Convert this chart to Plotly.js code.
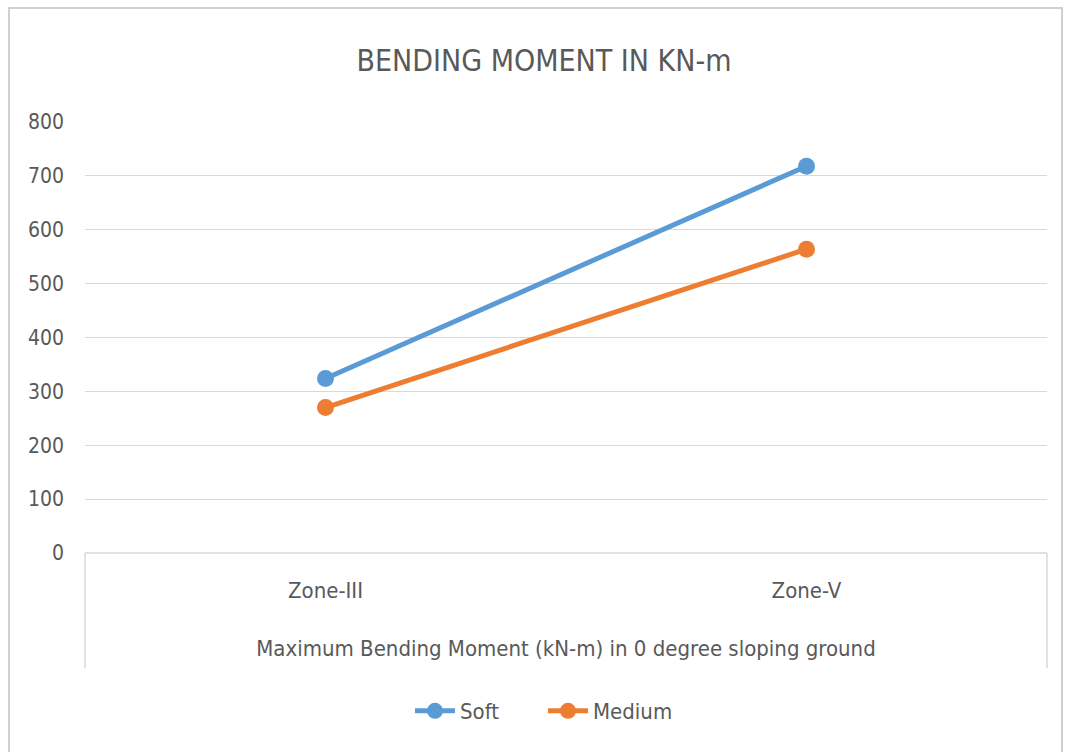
<!DOCTYPE html>
<html>
<head>
<meta charset="utf-8">
<script src="https://cdn.plot.ly/plotly-3.0.1.min.js"></script>
<style>
html,body{margin:0;padding:0;background:#fff;}
#chart{width:1065px;height:752px;}
</style>
</head>
<body>
<div id="chart"></div>
<script>
const categories = ["Zone-III", "Zone-V"];
const softValues = [324, 718];
const mediumValues = [270, 564];
const yTicks = [0, 100, 200, 300, 400, 500, 600, 700, 800];

const FONT = "'Liberation Sans Narrow', 'DejaVu Sans Condensed', Arial, sans-serif";
const TXT = "#595959";

const traces = [
  {
    x: categories, y: softValues, name: "Soft", type: "scatter", mode: "lines+markers",
    line: {color: "#5B9BD5", width: 5}, marker: {color: "#5B9BD5", size: 17}
  },
  {
    x: categories, y: mediumValues, name: "Medium", type: "scatter", mode: "lines+markers",
    line: {color: "#ED7D31", width: 5}, marker: {color: "#ED7D31", size: 17}
  }
];

const L = 85, R = 1047, T = 122, B = 553;
const px = v => (v - L) / (R - L);
const py = v => (B - v) / (B - T);

const layout = {
  width: 1065, height: 752,
  margin: {l: L, r: 1065 - R, t: T, b: 752 - B},
  paper_bgcolor: "#fff", plot_bgcolor: "#fff",
  font: {family: FONT, color: TXT, size: 20},
  title: {text: "BENDING MOMENT IN KN-m", font: {family: FONT, size: 30, color: TXT}, xref: "paper", x: px(544), xanchor: "center", y: 1 - 60/752, yanchor: "middle"},
  xaxis: {
    type: "category", range: [-0.5, 1.5], showgrid: false, zeroline: false,
    showline: false, ticks: "", tickfont: {size: 22, color: TXT, family: FONT},
    ticklabelstandoff: 22,
    title: {text: "Maximum Bending Moment (kN-m) in 0 degree sloping ground", font: {size: 22, color: TXT, family: FONT}, standoff: 38}
  },
  yaxis: {
    range: [0, 800], tickvals: yTicks, ticktext: yTicks.map(String), showgrid: true,
    gridcolor: "#d9d9d9", gridwidth: 1, zeroline: false, showline: false, ticks: "",
    tickfont: {size: 21, color: TXT, family: FONT}, ticklabelstandoff: 20
  },
  showlegend: true,
  legend: {orientation: "h", x: px(410), xanchor: "left", y: py(711), yanchor: "middle",
           font: {size: 22, color: TXT, family: FONT}, itemwidth: 40, entrywidth: 78},
  shapes: [
    {type: "line", xref: "paper", yref: "paper", x0: 0, x1: 1, y0: 0, y1: 0, line: {color: "#d9d9d9", width: 1.5}},
    {type: "line", xref: "paper", yref: "paper", x0: 0, x1: 0, y0: 0, y1: py(668), line: {color: "#d9d9d9", width: 1.5}},
    {type: "line", xref: "paper", yref: "paper", x0: 1, x1: 1, y0: 0, y1: py(668), line: {color: "#d9d9d9", width: 1.5}},
    {type: "rect", xref: "paper", yref: "paper", x0: px(9), x1: px(1062), y0: py(8), y1: py(770), line: {color: "#d0d0d0", width: 2}}
  ]
};

Plotly.newPlot("chart", traces, layout, {displayModeBar: false});
</script>
</body>
</html>
